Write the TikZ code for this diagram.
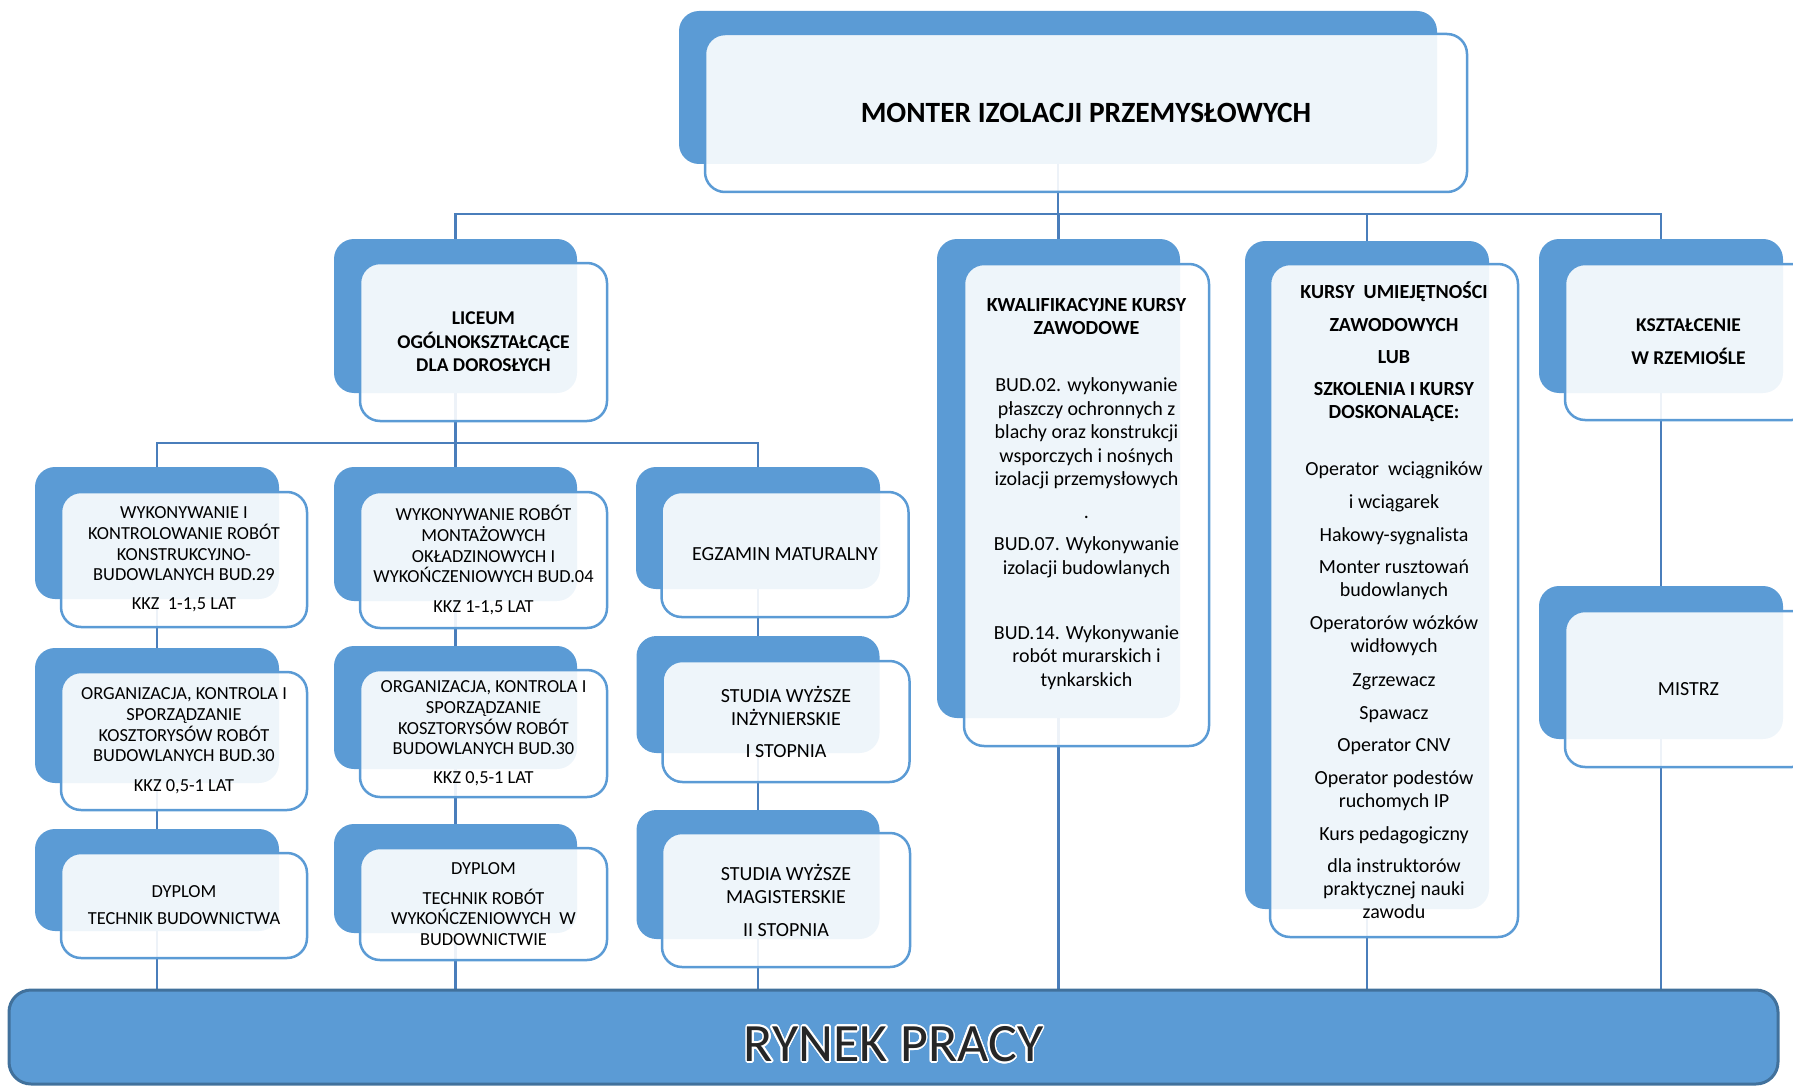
\documentclass[tikz,border=0pt]{standalone}
\usepackage{fontspec}
\setmainfont{Carlito}
\usepackage[copies]{contour}
\usetikzlibrary{positioning,calc}
\definecolor{boxblue}{HTML}{5B9BD5}
\definecolor{linkblue}{HTML}{4A7EBB}
\definecolor{rimblue}{HTML}{41719C}
\pgfdeclarelayer{lines}
\pgfsetlayers{lines,main}
\contourlength{1.6pt}
\contournumber{24}

\begin{document}
\begin{tikzpicture}[x=1pt,y=-1pt]
	\tikzstyle{backbox}=[fill=boxblue, rounded corners=20, inner sep=0]
	\tikzstyle{frontbox}=[draw=boxblue, line width=2.5, rounded corners=20, fill=white, fill opacity=0.9, text opacity=1, align=center, inner sep=0, font=\fontsize{18.4}{20.6}\selectfont]
	\tikzstyle{bigtext}=[font=\fontsize{20}{23.5}\selectfont]
	\tikzstyle{headtext}=[font=\fontsize{19.5}{23.5}\selectfont\bfseries]
	\tikzstyle{link}=[draw=linkblue, line width=2.5]

	\useasboundingbox (0,0) rectangle (1793,1086);
	\clip (0,0) rectangle (1793,1086);

	% Top
	\node at (1058,87.5) [backbox, minimum width=758, minimum height=153] (top_back) {};
	\node at (1086,113) [frontbox, minimum width=762, minimum height=158, font=\fontsize{29.4}{34}\selectfont\bfseries] (top) {MONTER IZOLACJI PRZEMYSŁOWYCH};

	% Second row
	\node at (455.5,316) [backbox, minimum width=243, minimum height=154] (lic_back) {};
	\node at (483.5,342) [frontbox, headtext, minimum width=247, minimum height=158] (lic) {LICEUM\\OGÓLNOKSZTAŁCĄCE\\DLA DOROSŁYCH};

	\node at (1058.5,478.5) [backbox, minimum width=243, minimum height=479] (kkz_back) {};
	\node at (1086.5,505) [frontbox, bigtext, minimum width=245, minimum height=482] (kkz) {\textbf{KWALIFIKACYJNE KURSY}\\\textbf{ZAWODOWE}\\[33.5pt]BUD.02. wykonywanie\\płaszczy ochronnych z\\blachy oraz konstrukcji\\wsporczych i nośnych\\izolacji przemysłowych\\[9.5pt].\\[8.5pt]BUD.07. Wykonywanie\\izolacji budowlanych\\[41.5pt]BUD.14. Wykonywanie\\robót murarskich i\\tynkarskich\\[2.5pt]\mbox{}};

	\node at (1367,575) [backbox, minimum width=244, minimum height=668] (kur_back) {};
	\node at (1394,600.5) [frontbox, font=\fontsize{20}{23}\selectfont, minimum width=248, minimum height=673] (kur) {\textbf{KURSY\ \ UMIEJĘTNOŚCI}\\[10pt]\textbf{ZAWODOWYCH}\\[9pt]\textbf{LUB}\\[9pt]\textbf{SZKOLENIA I KURSY}\\\textbf{DOSKONALĄCE:}\\[34pt]Operator\ \ wciągników\\[10pt]i wciągarek\\[10pt]Hakowy-sygnalista\\[9pt]Monter rusztowań\\budowlanych\\[10pt]Operatorów wózków\\widłowych\\[11pt]Zgrzewacz\\[10pt]Spawacz\\[9pt]Operator CNV\\[10pt]Operator podestów\\ruchomych IP\\[10pt]Kurs pedagogiczny\\[9pt]dla instruktorów\\praktycznej nauki\\zawodu};

	\node at (1661,316) [backbox, minimum width=244, minimum height=154] (ksz_back) {};
	\node at (1688.5,342) [frontbox, headtext, minimum width=247, minimum height=156] (ksz) {KSZTAŁCENIE\\[9.5pt]W RZEMIOŚLE};

	\node at (1661,662.5) [backbox, minimum width=244, minimum height=153] (mis_back) {};
	\node at (1688.5,689) [frontbox, bigtext, minimum width=247, minimum height=156] (mis) {MISTRZ};

	% Left column
	\node at (157,533) [backbox, minimum width=244, minimum height=132] (l1_back) {};
	\node at (184,559.5) [frontbox, minimum width=246, minimum height=135] (l1) {WYKONYWANIE I\\KONTROLOWANIE ROBÓT\\KONSTRUKCYJNO-\\BUDOWLANYCH BUD.29\\[8.5pt]KKZ\ \ 1-1,5 LAT};

	\node at (157,715.5) [backbox, minimum width=244, minimum height=135] (l2_back) {};
	\node at (184,741) [frontbox, minimum width=246, minimum height=138] (l2) {ORGANIZACJA, KONTROLA I\\SPORZĄDZANIE\\KOSZTORYSÓW ROBÓT\\BUDOWLANYCH BUD.30\\[9.5pt]KKZ 0,5-1 LAT};

	\node at (157,880) [backbox, minimum width=244, minimum height=102] (l3_back) {};
	\node at (184,905.5) [frontbox, minimum width=246, minimum height=105] (l3) {DYPLOM\\[6.5pt]TECHNIK BUDOWNICTWA};

	% Middle column
	\node at (455.5,534) [backbox, minimum width=243, minimum height=134] (m1_back) {};
	\node at (483.5,560) [frontbox, minimum width=247, minimum height=136] (m1) {WYKONYWANIE ROBÓT\\MONTAŻOWYCH\\OKŁADZINOWYCH I\\WYKOŃCZENIOWYCH BUD.04\\[9pt]KKZ 1-1,5 LAT};

	\node at (455.5,707.5) [backbox, minimum width=243, minimum height=123] (m2_back) {};
	\node at (483.5,733.5) [frontbox, minimum width=247, minimum height=127] (m2) {ORGANIZACJA, KONTROLA I\\SPORZĄDZANIE\\KOSZTORYSÓW ROBÓT\\BUDOWLANYCH BUD.30\\[8.5pt]KKZ 0,5-1 LAT};

	\node at (455.5,878.5) [backbox, minimum width=243, minimum height=109] (m3_back) {};
	\node at (483.5,904) [frontbox, minimum width=247, minimum height=112] (m3) {DYPLOM\\[9.5pt]TECHNIK ROBÓT\\WYKOŃCZENIOWYCH\ \ W\\BUDOWNICTWIE};

	% Third column
	\node at (758,528) [backbox, minimum width=244, minimum height=122] (egz_back) {};
	\node at (785,554.5) [frontbox, bigtext, minimum width=247, minimum height=125] (egz) {EGZAMIN MATURALNY};

	\node at (758,694.5) [backbox, minimum width=243, minimum height=117] (st1_back) {};
	\node at (786,721.5) [frontbox, font=\fontsize{20}{23}\selectfont, minimum width=247, minimum height=121] (st1) {STUDIA WYŻSZE\\INŻYNIERSKIE\\[9pt]I STOPNIA};

	\node at (758,874.5) [backbox, minimum width=243, minimum height=129] (st2_back) {};
	\node at (786,900) [frontbox, font=\fontsize{20}{23}\selectfont, minimum width=248, minimum height=134] (st2) {STUDIA WYŻSZE\\MAGISTERSKIE\\[10pt]II STOPNIA};

	% Bottom
	\node at (893.5,1037) [fill=boxblue, draw=rimblue, line width=3, rounded corners=22, minimum width=1769, minimum height=94, inner sep=0, text height=49pt, text depth=0pt, text=black!85, font=\fontsize{54}{60}\selectfont] (rynek) {\contour{white}{RYNEK PRACY}};

	% Connectors
	\coordinate (bus_top) at (1058,214);
	\coordinate (bus_lic) at (455.5,443);
	\begin{pgfonlayer}{lines}
		\draw [link] (top_back) -- (bus_top);
		\foreach \n in {lic,kkz,kur,ksz}
			\draw [link] (bus_top) -| (\n_back);
		\draw [link] (lic_back) -- (bus_lic);
		\foreach \n in {l1,m1,egz}
			\draw [link] (bus_lic) -| (\n_back);
		\foreach \a/\b in {l1/l2,l2/l3,m1/m2,m2/m3,egz/st1,st1/st2,ksz/mis}
			\draw [link] (\a_back) -- (\b_back);
		\foreach \n in {l3,m3,st2,kkz,kur,mis}
			\draw [link] (\n_back) -- (\n_back |- rynek.north);
	\end{pgfonlayer}
\end{tikzpicture}
\end{document}
